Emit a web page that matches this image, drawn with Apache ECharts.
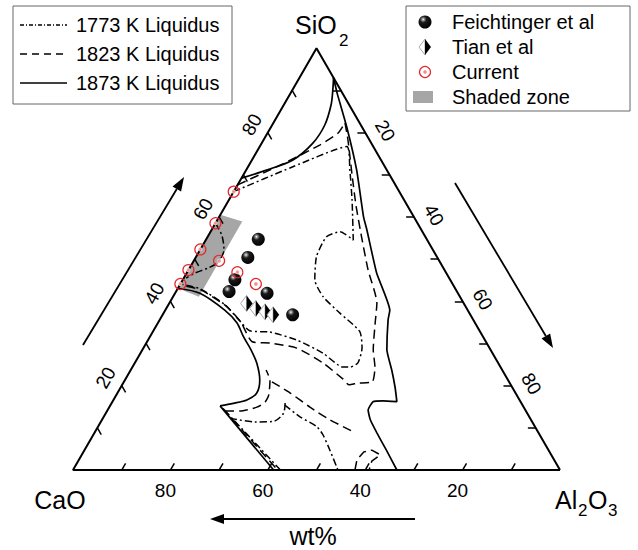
<!DOCTYPE html>
<html><head><meta charset="utf-8">
<script src="https://cdn.jsdelivr.net/npm/echarts@6/dist/echarts.min.js"></script>
<style>html,body{margin:0;padding:0;background:#fff}#c{width:638px;height:550px}</style>
</head><body><div id="c"></div>
<script>
// ---------- DATA (wt%) : each point is [SiO2, Al2O3]; CaO = 100 - SiO2 - Al2O3 ----------
// 1873 K liquidus (solid)
const liq1873_silica = [[69.2,0],[71.1,4.2],[73.5,8.4],[77.5,10.5],[81.8,10.8],[86.6,9.7],[90.1,8.3],[93,7]];
const liq1873_alumina = [[93,7],[89.3,9.6],[81.4,15.5],[71.1,22.7],[60.1,29.6],[56.9,31.9],[46.7,39.0],[37.9,46.1],[35.6,46.9],[28.5,50.2],[23.7,53.6],[19.5,56.4],[16.2,58.4],[16.4,55.4],[16.2,53.5],[14.2,53.5],[11.9,55.1],[8.8,58.0],[4.7,62.0],[0,66.5]];
const liq1873_lime = [[43.1,0],[41.9,5.1],[37.9,12.2],[34.9,16.2],[31.6,19.2],[28.5,22.3],[25.3,25.1],[21.3,27.7],[18.2,28.6],[16.6,27.4],[15.8,25.0],[15.2,22.6]];
const liq1873_c3a = [[15.2,22.6],[0,41.2]];
// 1823 K liquidus (dashed)
const liq1823_silica = [[67.6,0],[72.6,6.8],[77.1,12.2],[79.9,14.5],[82.3,14.7]];
const liq1823_main = [[82.3,14.7],[78.3,17.3],[70,22.3],[62.8,26.7],[55.3,31.6],[47.4,36.9],[39.6,42.6],[34.9,44.6],[28.5,47.4],[24.4,49.8],[20.9,51.0],[20.6,48.2],[20.2,46.6],[21.6,44.6],[25.4,38.6],[28.9,31.5],[30.1,25.4],[30.4,21.6],[35.1,16.9],[38.7,12.3],[42.7,4.9],[43.9,0]];
const liq1823_low1 = [[14.0,24.2],[14.0,27.3],[14.9,30.3],[16.1,31.4],[17.8,31.3],[21.3,29.8],[23.7,27.8]];
const liq1823_low2 = [[20.9,30.4],[18.3,35.4],[14.9,41.2],[11.9,46.8],[9.2,52.7]];
const liq1823_low3 = [[0,57.9],[2.4,57.1],[4.3,57.6],[4.7,59.0],[3.6,61.3],[2.1,60.3],[0,60.8]];
const liq1823_c3a = [[14.6,23.5],[0,42.0]];
// 1773 K liquidus (dash-dot)
const liq1773_main = [[66,0],[71.9,9.2],[76.7,17.9],[71.1,21.3],[64.0,25.3],[54.5,30.3],[56.5,26.6],[55.3,24.4],[50.6,24.7],[45.1,27.1],[41.1,30.8],[37.2,36.2],[32.8,42.5],[28.9,44.9],[25.4,45.8],[24.4,44.7],[24.4,43.2],[27.7,37.5],[30.8,30.6],[32.7,24.1],[33.0,19.8],[35.8,16.0],[39.1,11.7],[42.9,4.8],[44.1,0]];
const liq1773_shaded = [[58.5,0],[55.7,2.7],[52.2,4.9],[49.3,5.1],[47.9,3.8],[46.7,1.7],[45.5,0.5]];
const liq1773_low1 = [[12.3,26.1],[11.4,31.7],[11.5,35.3],[13.4,36.5],[15.9,35.6]];
const liq1773_low2 = [[15.4,35.8],[12.6,40.3],[10.3,44.9],[8.3,47.2],[4.7,50.4],[0,54.4]];
const liq1773_c3a = [[14.2,24.0],[0,42.6]];
// experimental points
const feichtinger = [[54.7,10.7],[50.4,10.7],[45.1,10.7],[42.3,10.9],[41.9,18.9],[36.8,26.7]];
const tian = [[39.5,15.9],[38.3,18.4],[37.5,20.7],[36.8,22.7]];
const current = [[66,0],[58.5,0],[52.3,0],[49.6,5.2],[47.4,0],[44.1,0],[46.9,10.3],[44.1,15.5]];
const shadedZone = [[60.5,0],[58.9,5.3],[41.1,5.3],[43.1,0]];
// axes
const tickValues = [10,20,30,40,50,60,70,80,90];
const tickLabels = [20,40,60,80];

// ---------- layout ----------
const W=638, H=550, PX0=73, PY0=470, SIDE=487, U=SIDE/100;
const FONT='"Liberation Sans", Arial, Helvetica, sans-serif';
const SQ=Math.sqrt(3)/2;
function tern(p){ const s=p[0], a=p[1]; return [a + s/2, s*SQ]; }

const SOLID='solid', DASH=[9,5], DASHDOT=[7,3,2,3];
function curve(data, type, smooth){
  return {type:'line', data:data.map(tern), symbol:'none', smooth:smooth||0, silent:true,
    lineStyle:{color:'#000', width: type===SOLID?1.7:1.5, type:type, opacity:1}, z:3};
}
const T=1.6;
const ticks=[];
tickValues.forEach(v=>{
  ticks.push({coords:[tern([0,100-v]), tern([T,100-v])]});      // bottom (CaO)
  ticks.push({coords:[tern([v,0]), tern([v-T,T])]});             // left (SiO2)
  ticks.push({coords:[tern([100-v,v]), tern([100-v,v-T])]});     // right (Al2O3)
});
// screen offset (dx,dy) converted into the label's rotated frame
function rotOffset(dx,dy,deg){
  const t=deg*Math.PI/180, c=Math.cos(t), s=Math.sin(t);
  return [dx*c - dy*s, dx*s + dy*c];
}
function labelSeries(points, offset, rotate){
  return {type:'scatter', symbolSize:0, silent:true, z:5, itemStyle:{opacity:1},
    data: points.map(p=>({value:tern(p.pos), name:String(p.txt)})),
    label:{show:true, position:'inside', formatter:'{b}', offset:rotOffset(offset[0],offset[1],rotate), rotate:rotate,
      color:'#000', opacity:1, textBorderWidth:0, fontSize:19, fontFamily:FONT}};
}
const sphere = new echarts.graphic.RadialGradient(0.36,0.3,0.72,[
  {offset:0,color:'#ffffff'},{offset:0.12,color:'#999'},{offset:0.35,color:'#1a1a1a'},{offset:1,color:'#000'}]);
const redFill = new echarts.graphic.RadialGradient(0.5,0.5,0.5,[
  {offset:0,color:'#f07070'},{offset:0.3,color:'#f7b5b5'},{offset:0.45,color:'rgba(255,255,255,0)'},{offset:1,color:'rgba(255,255,255,0)'}]);

function halfDiamond(cx,cy){
  return [
    {type:'polygon', shape:{points:[[cx,cy-8],[cx-6,cy],[cx,cy+8]]}, style:{fill:'#fff', stroke:'#aaa', lineWidth:1}},
    {type:'polygon', shape:{points:[[cx,cy-8],[cx+6,cy],[cx,cy+8]]}, style:{fill:'#000'}}
  ];
}
function arrow(x1,y1,x2,y2){
  const dx=x2-x1, dy=y2-y1, L=Math.hypot(dx,dy), ux=dx/L, uy=dy/L, hl=14, hw=5;
  const bx=x2-ux*hl, by=y2-uy*hl;
  return [
    {type:'line', shape:{x1:x1,y1:y1,x2:bx,y2:by}, style:{stroke:'#000', lineWidth:1.8}},
    {type:'polygon', shape:{points:[[x2,y2],[bx-uy*hw,by+ux*hw],[bx+uy*hw,by-ux*hw]]}, style:{fill:'#000'}}
  ];
}
function txt(x,y,s,size,align){
  return {type:'text', x:x, y:y, style:{text:s, font:size+'px '+FONT, fill:'#000',
    textAlign:align||'left', align:align||'left', textVerticalAlign:'middle', verticalAlign:'middle'}};
}
function legLine(y,dash){
  return {type:'line', shape:{x1:20,y1:y,x2:67,y2:y}, style:{stroke:'#000', lineWidth:1.5, lineDash:dash}};
}

const graphics = [].concat(
  arrow(83,345,184,177), arrow(455,183,553,348), arrow(415,519,210,519),
  [txt(295,25,'SiO',25), txt(339,40,'2',17),
   txt(60,500,'CaO',25,'center'),
   txt(555,500,'Al',25), txt(578,510,'2',17), txt(588,500,'O',25), txt(608,510,'3',17),
   txt(313,536,'wt%',25,'center'),
   {type:'rect', shape:{x:13,y:6,width:219,height:98}, style:{fill:'#fff', stroke:'#666', lineWidth:1}},
   legLine(25,[4,2,1,2]), legLine(54,[7,5]), legLine(83,null),
   txt(76,25,'1773 K Liquidus',20), txt(76,54,'1823 K Liquidus',20), txt(76,83,'1873 K Liquidus',20),
   {type:'rect', shape:{x:406,y:6,width:224,height:105}, style:{fill:'#fff', stroke:'#666', lineWidth:1}},
   {type:'circle', shape:{cx:425,cy:22,r:6.5}, style:{fill:sphere}},
   {type:'circle', shape:{cx:425,cy:72,r:5.5}, style:{fill:redFill, stroke:'#e3262b', lineWidth:1.2}},
   {type:'rect', shape:{x:413,y:91,width:20,height:12}, style:{fill:'#a6a6a6'}},
   txt(452,22,'Feichtinger et al',20), txt(452,47,'Tian et al',20), txt(452,72,'Current',20), txt(452,97,'Shaded zone',20)],
  halfDiamond(425,47)
);

const shadedXY = shadedZone.map(tern);
const chart = echarts.init(document.getElementById('c'), null, {renderer:'svg', width:W, height:H});
chart.setOption({
  animation:false,
  backgroundColor:'#fff',
  grid:{left:0,right:0,top:0,bottom:0},
  xAxis:{type:'value', min:-PX0/U, max:(W-PX0)/U, show:false},
  yAxis:{type:'value', min:-(H-PY0)/U, max:PY0/U, show:false},
  series:[
    {type:'custom', silent:true, z:1, data:shadedXY,
      renderItem:function(params, api){
        if(params.dataIndex!==0) return null;
        return {type:'polygon', shape:{points:shadedXY.map(p=>api.coord(p))}, style:{fill:'#a6a6a6'}};
      }},
    curve(liq1873_silica,SOLID,0.3), curve(liq1873_alumina,SOLID,0.15), curve(liq1873_lime,SOLID,0.3), curve(liq1873_c3a,SOLID),
    curve(liq1823_silica,DASH,0.2), curve(liq1823_main,DASH,0.2), curve(liq1823_low1,DASH,0.2), curve(liq1823_low2,DASH,0.2), curve(liq1823_low3,DASH), curve(liq1823_c3a,DASH),
    curve(liq1773_main,DASHDOT,0.2), curve(liq1773_shaded,DASHDOT,0.3), curve(liq1773_low1,DASHDOT,0.3), curve(liq1773_low2,DASHDOT,0.2), curve(liq1773_c3a,DASHDOT),
    {type:'line', data:[[0,100],[0,0],[100,0],[0,100]].map(tern), symbol:'none', silent:true,
      lineStyle:{color:'#000', width:2}, z:4},
    {type:'lines', coordinateSystem:'cartesian2d', silent:true, z:4, data:ticks, lineStyle:{color:'#000', width:1.5, opacity:1}},
    labelSeries(tickLabels.map(v=>({pos:[0,100-v], txt:v})), [-5,20], 0),
    labelSeries(tickLabels.map(v=>({pos:[v,0], txt:v})), [-16,-8], 60),
    labelSeries(tickLabels.map(v=>({pos:[100-v,v], txt:v})), [20,-2], -60),
    {type:'scatter', data:feichtinger.map(tern), symbol:'circle', symbolSize:13, silent:true, z:6,
      itemStyle:{color:sphere, opacity:1}},
    {type:'custom', data:tian.map(tern), silent:true, z:6,
      renderItem:function(params, api){
        const p=api.coord([api.value(0), api.value(1)]);
        return {type:'group', children:halfDiamond(p[0],p[1])};
      }},
    {type:'scatter', data:current.map(tern), symbol:'circle', symbolSize:11, silent:true, z:7,
      itemStyle:{color:redFill, borderColor:'#e3262b', borderWidth:1.2, opacity:1}}
  ],
  graphic:{elements:graphics}
});
</script></body></html>
